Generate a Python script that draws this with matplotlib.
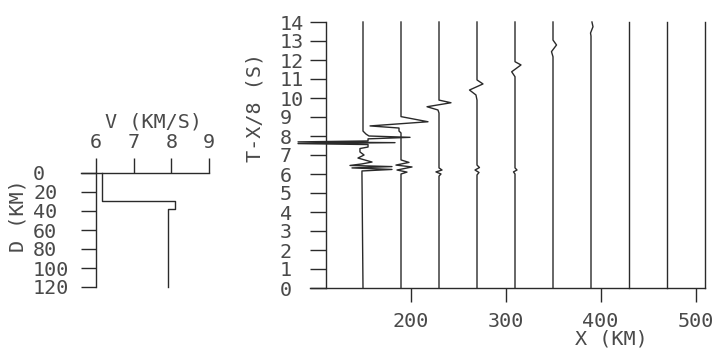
import numpy as np
import matplotlib.pyplot as plt

# crustal model: velocity (km/s) against depth (km)
depth = [0, 30, 30, 38, 38, 120]
velocity = [6.15, 6.15, 8.1, 8.1, 7.9, 7.9]

# record section, one trace per receiver offset (km)
offsets = [150, 190, 230, 270, 310, 350, 390, 430, 470, 510]

# turning points of each trace: reduced time T-X/8 (s) and deflection (km)
trace_t = [
    [14.0, 8.26, 8.1, 8.0, 7.93, 7.85, 7.74, 7.69, 7.65, 7.6, 7.55, 7.42, 7.34,
     7.16, 7.0, 6.84, 6.63, 6.53, 6.45, 6.39, 6.32, 6.24, 6.16, 6.0, 0.0],
    [14.0, 9.02, 8.75, 8.53, 8.42, 8.26, 8.16, 6.74, 6.61, 6.47, 6.37, 6.21, 6.1,
     6.0, 0.0],
    [14.0, 9.89, 9.75, 9.54, 9.37, 9.21, 6.32, 6.21, 6.11, 6.0, 5.89, 0.0],
    [14.0, 10.95, 10.74, 10.42, 10.16, 9.89, 6.47, 6.34, 6.21, 6.08, 5.95, 0.0],
    [14.0, 11.91, 11.74, 11.38, 11.12, 6.32, 6.21, 6.11, 6.0, 0.0],
    [14.0, 13.05, 12.79, 12.44, 12.17, 0.0],
    [14.0, 13.75, 13.42, 13.26, 0.0],
    [14.0, 0.0],
    [14.0, 0.0],
    [14.0, 0.0],
]
trace_dx = [
    [0, 0, 3.2, 6.3, 49.5, 5.3, 5.3, -68.4, 33.7, -68.4, 5.3, 5.3, -3.2,
     -3.2, 1.1, -5.3, 9.5, -1.1, -13.7, 30.5, -11.6, 30.5, -1.1, -1.1, 0],
    [0, 0, 28.4, -32.6, -2.1, -2.1, 0, 0, 8.4, -5.3, 11.6, -4.2, 6.3,
     0, 0],
    [0, 0, 12.6, -12.6, -1.1, 0, 0, 3.2, -3.2, 2.1, 0, 0],
    [0, 0, 6.3, -7.9, -1.1, 0, 0, 2.6, -2.1, 2.1, 0, 0],
    [0, 0, 6.3, -3.5, 0, 0, 2.1, -1.6, 0, 0],
    [0, 0, 3.7, -1.6, 0, 0],
    [1.0, 2.1, -0.5, 0, 0],
    [0, 0],
    [0, 0],
    [0, 0],
]

vel_ticks = [6, 7, 8, 9]
depth_ticks = [0, 20, 40, 60, 80, 100, 120]
x_ticks = [200, 300, 400, 500]
t_ticks = list(range(15))

ink = '#2a2a2a'
txt = '#4a4a4a'
plt.rcParams['font.family'] = 'DejaVu Sans Mono'
plt.rcParams['font.size'] = 14.5
plt.rcParams['text.color'] = txt
plt.rcParams['axes.labelcolor'] = txt
plt.rcParams['xtick.color'] = ink
plt.rcParams['ytick.color'] = ink
plt.rcParams['xtick.labelcolor'] = txt
plt.rcParams['ytick.labelcolor'] = txt

W, H = 715, 351
fig = plt.figure(figsize=(W / 100, H / 100), dpi=100)

# ---- velocity-depth panel
ax_v = fig.add_axes([81 / W, (H - 287) / H, 128 / W, 114 / H])
ax_v.plot(velocity, depth, color=ink, lw=1.0, clip_on=False)
ax_v.set_xlim(5.6, 9)
ax_v.set_ylim(120, 0)
ax_v.spines['right'].set_visible(False)
ax_v.spines['bottom'].set_visible(False)
ax_v.spines['left'].set_position(('data', 6))
for s in ('left', 'top'):
    ax_v.spines[s].set_color(ink)
    ax_v.spines[s].set_linewidth(1.0)
ax_v.xaxis.tick_top()
ax_v.set_xticks(vel_ticks)
ax_v.set_yticks(depth_ticks)
ax_v.tick_params(axis='x', direction='out', length=10.8, width=1.0, pad=4)
ax_v.tick_params(axis='y', direction='out', length=10.8, width=1.0, pad=34.6)
for lab in ax_v.get_yticklabels():
    lab.set_horizontalalignment('left')
ax_v.xaxis.set_label_position('top')
ax_v.set_xlabel('V (KM/S)', va='center')
ax_v.xaxis.set_label_coords(0.57, 1.447)
ax_v.set_ylabel('D (KM)', va='center')
ax_v.yaxis.set_label_coords(-0.492, 0.623)
ax_v.patch.set_visible(False)

# ---- record section panel
ax_r = fig.add_axes([309.8 / W, (H - 288) / H, 395.2 / W, 266 / H])
for x0, ts, dxs in zip(offsets, trace_t, trace_dx):
    ax_r.plot(x0 + np.array(dxs), ts, color=ink, lw=1.0, clip_on=False)
ax_r.set_xlim(94, 510)
ax_r.set_ylim(0, 14)
ax_r.spines['right'].set_visible(False)
ax_r.spines['top'].set_visible(False)
ax_r.spines['left'].set_position(('data', 111))
for s in ('left', 'bottom'):
    ax_r.spines[s].set_color(ink)
    ax_r.spines[s].set_linewidth(1.0)
ax_r.set_xticks(x_ticks)
ax_r.set_yticks(t_ticks)
ax_r.tick_params(axis='x', direction='out', length=10.1, width=1.0, pad=7)
ax_r.tick_params(axis='y', direction='out', length=11.5, width=1.0, pad=21.6)
for lab in ax_r.get_yticklabels():
    lab.set_horizontalalignment('left')
ax_r.set_xlabel('X (KM)', va='center')
ax_r.xaxis.set_label_coords(0.764, -0.192)
ax_r.set_ylabel('T-X/8 (S)', va='center')
ax_r.yaxis.set_label_coords(-0.139, 0.677)
ax_r.patch.set_visible(False)

fig.savefig('out.png', dpi=100, facecolor='white')
